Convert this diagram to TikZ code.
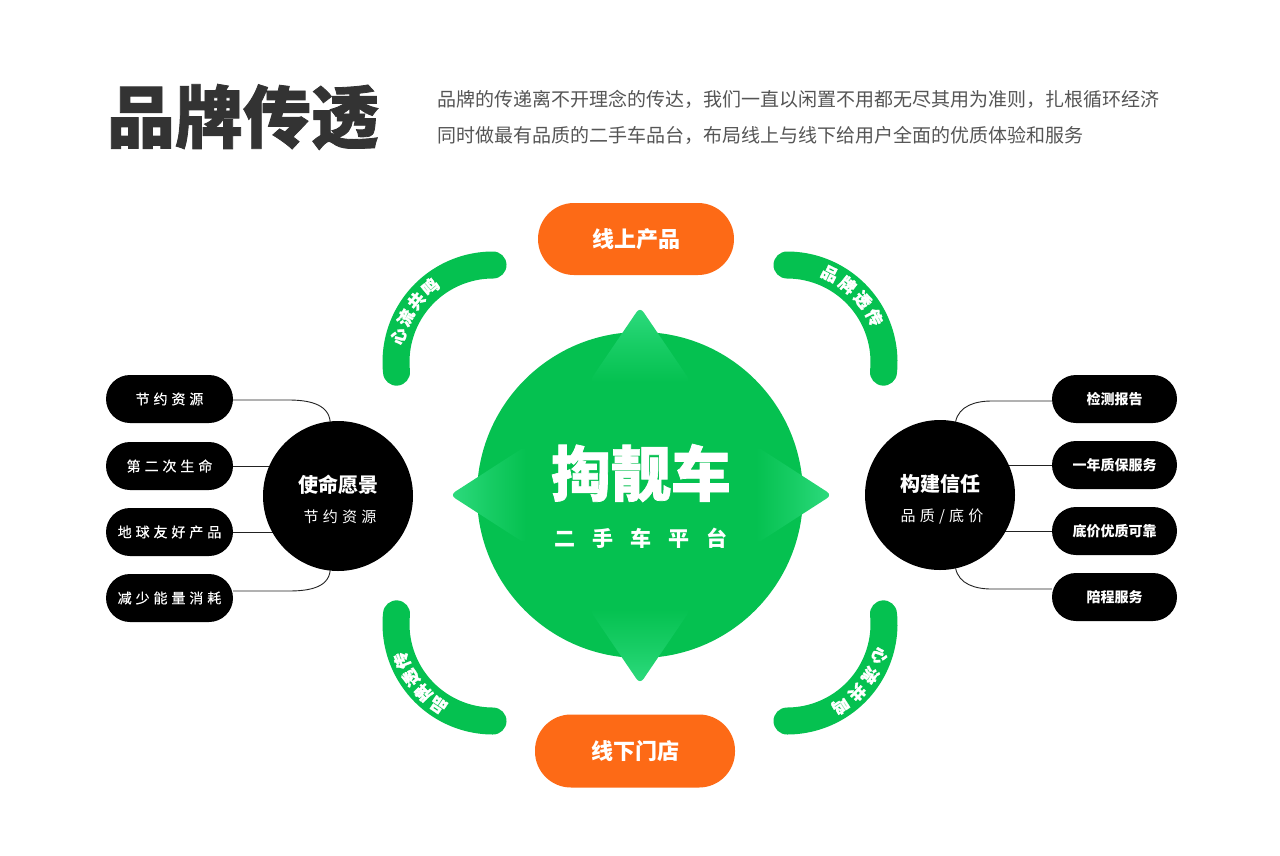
\documentclass[tikz,border=0pt]{standalone}
\usepackage{fontspec}
\usetikzlibrary{calc}
\newfontfamily\cjk{Noto Sans CJK SC}
\newfontfamily\cjkheavy{Noto Sans CJK SC}[BoldFeatures={FakeBold=1.2}]
\newfontfamily\cjksp{Noto Sans CJK SC}[LetterSpace=28]
\newfontfamily\cjkspm{Noto Sans CJK SC}[LetterSpace=28, FakeBold=0.35]
\newfontfamily\cjkwide{Noto Sans CJK SC}[LetterSpace=80]
\definecolor{cgreen}{HTML}{05C150}
\definecolor{lgreen}{HTML}{2EDB7E}
\definecolor{corange}{HTML}{FD6A16}
\definecolor{ctitle}{HTML}{333333}
\definecolor{cdesc}{HTML}{555555}
\definecolor{cline}{HTML}{222222}
\tikzset{
  band/.style={draw=cgreen, line width=27pt, line cap=round},
  bandtxt/.style={text=white, font=\cjkheavy\bfseries\fontsize{16.5}{16.5}\selectfont, inner sep=0pt},
  obtn/.style={fill=corange, text=white, rounded corners=36pt, inner sep=0pt,
    font=\cjk\bfseries\fontsize{22}{22}\selectfont},
  lpill/.style={fill=black, text=white, rounded corners=24pt, minimum width=127pt,
    minimum height=48pt, inner sep=0pt, font=\cjkspm\fontsize{14}{14}\selectfont},
  rpill/.style={fill=black, text=white, rounded corners=24pt, minimum width=125pt,
    minimum height=48pt, inner sep=0pt, font=\cjk\bfseries\fontsize{14}{14}\selectfont},
  dcirc/.style={circle, fill=black, minimum size=150pt, inner sep=0pt},
  ctitle/.style={text=white, inner sep=0pt, font=\cjk\bfseries\fontsize{20}{20}\selectfont},
  csub/.style={text=white, inner sep=0pt, font=\cjksp\fontsize{15}{15}\selectfont},
  conn/.style={draw=cline, line width=0.9pt},
}
\begin{document}
\begin{tikzpicture}[x=1pt,y=1pt]
\useasboundingbox (0,0) rectangle (1280,-855);
\fill[white] (0,0) rectangle (1280,-855);

% header
\node[text=ctitle, inner sep=0pt, font=\cjkheavy\bfseries\fontsize{68}{68}\selectfont] (title) at (243,-117) {品牌传透};
\node[text=cdesc, anchor=west, align=left, inner sep=0pt, font=\cjk\fontsize{19}{36}\selectfont] (desc) at (437,-117)
  {品牌的传递离不开理念的传达，我们一直以闲置不用都无尽其用为准则，扎根循环经济\\同时做最有品质的二手车品台，布局线上与线下给用户全面的优质体验和服务};

% band centres
\coordinate (tlc) at (493,-362);
\coordinate (trc) at (787,-362);
\coordinate (blc) at (493,-624);
\coordinate (brc) at (787,-624);

% pills
\node[lpill] (l1) at (169.5,-399) {节约资源};
\node[lpill] (l2) at (169.5,-466) {第二次生命};
\node[lpill] (l3) at (169.5,-532) {地球友好产品};
\node[lpill] (l4) at (169.5,-598) {减少能量消耗};
\node[rpill] (r1) at (1114.5,-399) {检测报告};
\node[rpill] (r2) at (1114.5,-465) {一年质保服务};
\node[rpill] (r3) at (1114.5,-531) {底价优质可靠};
\node[rpill] (r4) at (1114.5,-597) {陪程服务};

\coordinate (lcc) at (338,-496);
\coordinate (rcc) at (940,-495);

% connectors (behind circles)
\draw[conn] ($(l1.east)+(0,-1)$) -- ++(55,0) to[out=0,in=96] ($(lcc)+(96:75)$);
\draw[conn] (l2.east) -- (l2.east -| lcc);
\draw[conn] (l3.east) -- (l3.east -| lcc);
\draw[conn] ($(l4.east)+(0,7)$) -- ++(55,0) to[out=0,in=-96] ($(lcc)+(-96:75)$);
\draw[conn] ($(r1.west)+(0,-2)$) -- ++(-60,0) to[out=180,in=78] ($(rcc)+(78:75)$);
\draw[conn] (r2.west) -- (r2.west -| rcc);
\draw[conn] (r3.west) -- (r3.west -| rcc);
\draw[conn] ($(r4.west)+(0,8)$) -- ++(-60,0) to[out=180,in=-78] ($(rcc)+(-78:75)$);

\node[dcirc] (lc) at (lcc) {};
\node[dcirc] (rc) at (rcc) {};
\node[ctitle] (lct) at (338,-485) {使命愿景};
\node[csub] (lcs) at (340,-517) {节约资源};
\node[ctitle] (rct) at (940,-484) {构建信任};
\node[csub] (rcs) at (942,-517) {品质/底价};

% bands
\draw[band] ($(tlc)+(90:97)$) arc[start angle=90, end angle=186, radius=97pt];
\draw[band] ($(trc)+(90:97)$) arc[start angle=90, end angle=-6, radius=97pt];
\draw[band] ($(blc)+(270:97)$) arc[start angle=270, end angle=174, radius=97pt];
\draw[band] ($(brc)+(-90:97)$) arc[start angle=-90, end angle=6, radius=97pt];

\foreach \ch/\a [count=\i] in {心/164.7, 流/153.1, 共/141.5, 鸣/129.9}
  \node[bandtxt, rotate=\a-90] (tlt\i) at ($(tlc)+(\a:98)$) {\ch};
\foreach \ch/\a [count=\i] in {品/64.2, 牌/51.8, 透/39.4, 传/27}
  \node[bandtxt, rotate=\a-90] (trt\i) at ($(trc)+(\a:98)$) {\ch};
\foreach \ch/\a [count=\i] in {品/236, 牌/224.6, 透/213.2, 传/201.8}
  \node[bandtxt, rotate=\a-90] (blt\i) at ($(blc)+(\a:98)$) {\ch};
\foreach \ch/\a [count=\i] in {心/341, 流/328.4, 共/315.8, 鸣/303.2}
  \node[bandtxt, rotate=\a-90] (brt\i) at ($(brc)+(\a:98)$) {\ch};

% hub
\node[circle, fill=cgreen, minimum size=326pt, inner sep=0pt] (hub) at (640,-495) {};
\shade[top color=lgreen, bottom color=cgreen, middle color=lgreen!45!cgreen, rounded corners=6pt]
  (640,-307) -- (691,-382) -- (589,-382) -- cycle;
\shade[bottom color=lgreen, top color=cgreen, middle color=lgreen!45!cgreen, rounded corners=6pt]
  (640,-684) -- (691,-609) -- (589,-609) -- cycle;
\shade[left color=lgreen, right color=cgreen, middle color=lgreen!45!cgreen, rounded corners=6pt]
  (450,-495) -- (526,-446) -- (526,-544) -- cycle;
\shade[right color=lgreen, left color=cgreen, middle color=lgreen!45!cgreen, rounded corners=6pt]
  (832,-495) -- (756,-446) -- (756,-544) -- cycle;
\node[text=white, inner sep=0pt, font=\cjkheavy\bfseries\fontsize{60}{60}\selectfont] (brand) at (641,-473) {掏靓车};
\node[text=white, inner sep=0pt, font=\cjkwide\bfseries\fontsize{21}{21}\selectfont] (sub) at (641,-538) {二手车平台};

% orange buttons
\node[obtn, minimum width=196pt, minimum height=72pt] (top) at (636,-239) {线上产品};
\node[obtn, minimum width=200pt, minimum height=73pt] (bot) at (635,-751) {线下门店};
\end{tikzpicture}
\end{document}
